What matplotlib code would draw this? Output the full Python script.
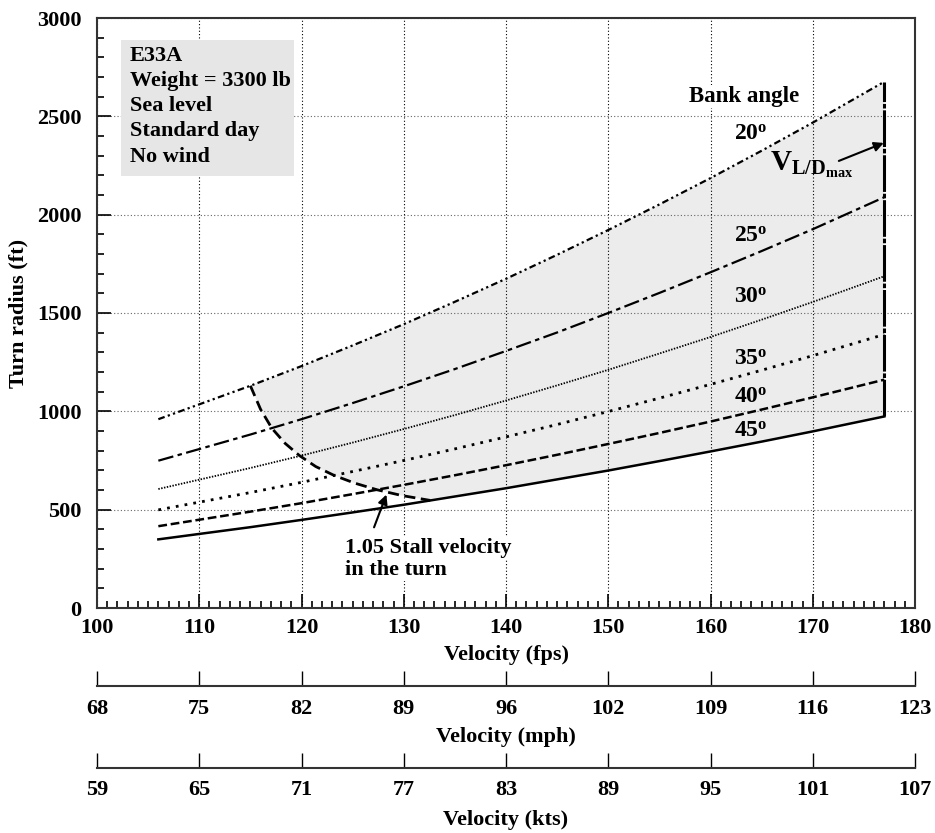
import numpy as np
import matplotlib
matplotlib.use("Agg")
import matplotlib.pyplot as plt
from matplotlib.patches import Polygon, Rectangle
from matplotlib.ticker import MultipleLocator

plt.rcParams['font.family'] = ['Liberation Serif', 'DejaVu Serif']
plt.rcParams['font.weight'] = 'bold'
plt.rcParams['mathtext.fontset'] = 'custom'
plt.rcParams['mathtext.rm'] = 'Liberation Serif:bold'
plt.rcParams['mathtext.bf'] = 'Liberation Serif:bold'
plt.rcParams['mathtext.it'] = 'Liberation Serif:bold'

# ---- data ----
velocity_fps = [106, 115, 120, 125, 130, 135, 140, 145, 150, 155, 160, 165, 170, 177]
radius_20 = [960, 1130, 1230, 1335, 1443, 1557, 1674, 1796, 1922, 2052, 2186, 2325, 2468, 2676]
radius_25 = [749, 882, 960, 1042, 1127, 1215, 1307, 1401, 1500, 1602, 1707, 1815, 1926, 2089]
radius_30 = [605, 712, 775, 841, 910, 981, 1055, 1132, 1211, 1294, 1378, 1466, 1556, 1687]
radius_35 = [499, 587, 639, 694, 750, 809, 870, 933, 999, 1067, 1137, 1209, 1283, 1391]
radius_40 = [416, 490, 533, 579, 626, 675, 726, 779, 834, 890, 948, 1009, 1071, 1161]
radius_45 = [349, 411, 448, 486, 525, 567, 609, 654, 699, 747, 796, 846, 898, 974]

stall_velocity = [115.0, 116.0, 117.1, 118.4, 119.8, 121.4, 123.2, 125.2, 127.4, 129.8, 132.6]
stall_radius = [1130, 1010, 914, 837, 775, 719, 674, 635, 601, 572, 547]

v_ld_max = 177

fps_ticks = [100, 110, 120, 130, 140, 150, 160, 170, 180]
mph_labels = ['68', '75', '82', '89', '96', '102', '109', '116', '123']
kts_labels = ['59', '65', '71', '77', '83', '89', '95', '101', '107']

bank_angles = ['20', '25', '30', '35', '40', '45']
info_lines = ['E33A', 'Weight = 3300 lb', 'Sea level', 'Standard day', 'No wind']

# ---- figure ----
fig = plt.figure(figsize=(9.35, 8.33), dpi=100)
L, R = 97 / 935, 915 / 935
ax = fig.add_axes([L, 1 - 608 / 833, R - L, (608 - 18) / 833])
ax.set_xlim(100, 180)
ax.set_ylim(0, 3000)

v = np.array(velocity_fps, dtype=float)
r20 = np.array(radius_20, dtype=float)
r45 = np.array(radius_45, dtype=float)
sv = np.array(stall_velocity)
sr = np.array(stall_radius, dtype=float)

# shaded operating region
upper_mask = v >= sv[0]
lower_mask = v > sv[-1]
poly = np.vstack([
    np.column_stack([v[upper_mask], r20[upper_mask]]),
    np.column_stack([v[lower_mask][::-1], r45[lower_mask][::-1]]),
    np.column_stack([sv[::-1], sr[::-1]]),
])
ax.add_patch(Polygon(poly, closed=True, facecolor='#ececec', edgecolor='none', zorder=1))

# curves
styles = [
    dict(ls=(0, (3, 1.5, 1, 1.5, 1, 1.5)), lw=1.6),
    dict(ls=(0, (7, 2, 2, 2)), lw=1.6),
    dict(ls=(0, (0.8, 0.8)), lw=1.3),
    dict(ls=(0, (1, 2.2)), lw=2.0),
    dict(ls=(0, (3.5, 1.5)), lw=1.8),
    dict(ls='-', lw=1.8),
]
for r, st in zip([radius_20, radius_25, radius_30, radius_35, radius_40, radius_45], styles):
    ax.plot(velocity_fps, r, color='black', zorder=3, **st)

ax.plot(stall_velocity, stall_radius, color='black', lw=2.0, ls=(0, (4, 2)), zorder=3)
ax.plot([v_ld_max, v_ld_max], [radius_45[-1], radius_20[-1]], color='black', lw=2.2,
        ls=(0, (12, 0.6, 1.5, 0.6)), zorder=3)

# grid
ax.set_xticks(fps_ticks)
ax.set_yticks(np.arange(0, 3001, 500))
ax.xaxis.set_minor_locator(MultipleLocator(1))
ax.yaxis.set_minor_locator(MultipleLocator(100))
ax.xaxis.grid(True, which='major', color='black', ls=(0, (1, 2)), lw=0.8)
ax.yaxis.grid(True, which='major', color='#666666', ls=(0, (1, 2)), lw=0.8)

ax.tick_params(which='both', direction='in', top=False, right=False, width=1.2, colors='black')
ax.tick_params(which='major', length=10, labelsize=16)
ax.tick_params(which='minor', length=5)
ax.tick_params(axis='x', pad=7)
ax.tick_params(axis='y', pad=11)
for s in ax.spines.values():
    s.set_linewidth(1.5)
    s.set_color('#333333')

ax.set_xlabel('Velocity (fps)', fontsize=16, fontweight='bold', labelpad=5)
ax.set_ylabel('Turn radius (ft)', fontsize=16, fontweight='bold', labelpad=6)

# info box
ax.add_patch(Rectangle((102.35, 2197), 119.3 - 102.35, 2888 - 2197, facecolor='#e6e6e6',
                       edgecolor='none', zorder=4))
for i, line in enumerate(info_lines):
    ax.annotate(line, xy=(103.2, 2781), xytext=(0, -i * 18.1), textcoords='offset points',
                fontsize=16, fontweight='bold', ha='left', va='baseline', zorder=5)

# labels
ax.text(163.3, 2573, 'Bank angle', fontsize=16.5, fontweight='bold', ha='center', va='baseline',
        zorder=5, bbox=dict(facecolor='white', edgecolor='none', pad=1))
label_y = [2380, 1861, 1551, 1236, 1042, 869]
for ang, y in zip(bank_angles, label_y):
    ax.text(163.9, y, r'$\mathbf{' + ang + r'}^{\mathbf{o}}$', fontsize=17, ha='center',
            va='baseline', zorder=5)

ax.text(165.8, 2222, r'$\mathbf{V_{L/D_{max}}}$', fontsize=21, ha='left', va='baseline', zorder=5)
ax.annotate('', xy=(177.2, 2370), xytext=(172.3, 2268),
            arrowprops=dict(arrowstyle='-|>', color='black', lw=1.5, mutation_scale=14), zorder=5)

for i, line in enumerate(['1.05 Stall velocity', 'in the turn']):
    ax.annotate(line, xy=(124.25, 280), xytext=(0, -i * 15.8), textcoords='offset points',
                fontsize=16, fontweight='bold', ha='left', va='baseline', zorder=5,
                bbox=dict(facecolor='white', edgecolor='none', pad=0.5))
ax.annotate('', xy=(128.4, 590), xytext=(127.0, 397),
            arrowprops=dict(arrowstyle='-|>', color='black', lw=1.5, mutation_scale=14), zorder=6)

# secondary velocity scales
def scale_axis(y_px, labels, title, pad, labelpad):
    a = fig.add_axes([L, 1 - y_px / 833, R - L, 0.0001])
    a.set_xlim(100, 180)
    a.patch.set_visible(False)
    for k in ['left', 'right', 'top']:
        a.spines[k].set_visible(False)
    a.spines['bottom'].set_linewidth(1.5)
    a.spines['bottom'].set_color('#333333')
    a.set_yticks([])
    a.set_xticks(fps_ticks)
    a.set_xticklabels(labels)
    a.tick_params(axis='x', direction='in', length=11, width=1.0, labelsize=16, pad=pad)
    a.set_xlabel(title, fontsize=16, fontweight='bold', labelpad=labelpad)
    return a

scale_axis(686, mph_labels, 'Velocity (mph)', 9, 6)
scale_axis(768, kts_labels, 'Velocity (kts)', 8.5, 7)

fig.savefig('out.png', dpi=100)
